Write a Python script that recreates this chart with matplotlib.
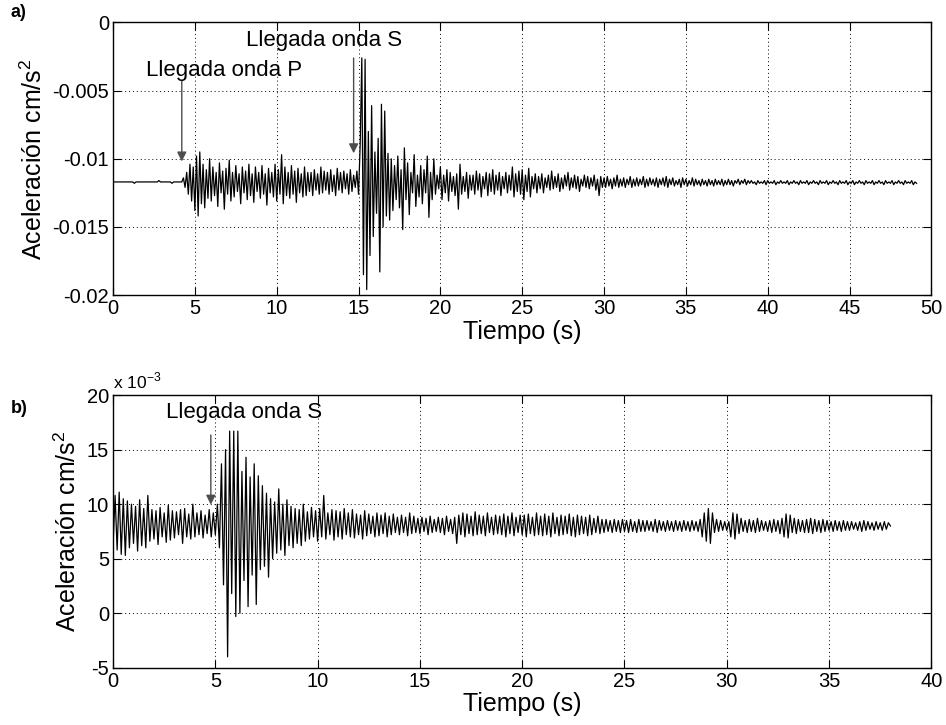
import numpy as np
import matplotlib
matplotlib.use("Agg")
import matplotlib.pyplot as plt

plt.rcParams["font.family"] = ["Liberation Sans", "DejaVu Sans"]
plt.rcParams["axes.unicode_minus"] = False

# sampling step of the traces (s)
dt = 0.1

# panel a) acceleration, units of 1e-4 cm/s^2, one row per second
acc_a = [
    -117, -117, -117, -117, -117, -117, -117, -117, -117, -117,
    -117, -117, -117, -118, -117, -117, -117, -117, -117, -117,
    -117, -117, -117, -117, -117, -117, -117, -117, -116, -117,
    -117, -117, -117, -117, -117, -117, -118, -117, -117, -117,
    -117, -117, -117, -114, -121, -110, -126, -104, -131, -106,
    -138, -98, -142, -95, -133, -104, -136, -108, -129, -100,
    -131, -106, -127, -110, -135, -103, -125, -109, -137, -107,
    -126, -101, -131, -110, -128, -105, -124, -111, -133, -106,
    -125, -109, -130, -104, -127, -111, -132, -106, -124, -110,
    -129, -105, -126, -111, -134, -107, -125, -110, -128, -104,
    -131, -108, -126, -97, -133, -106, -127, -110, -129, -105,
    -126, -109, -132, -107, -125, -111, -128, -106, -127, -110,
    -124, -110, -127, -108, -123, -111, -126, -106, -125, -109,
    -123, -110, -126, -108, -124, -112, -127, -107, -123, -110,
    -125, -109, -122, -111, -126, -108, -124, -112, -121, -109,
    -126, -90, -26, -185, -27, -196, -80, -171, -61, -157,
    -95, -140, -85, -183, -60, -150, -65, -142, -96, -145,
    -100, -138, -105, -130, -98, -136, -108, -152, -92, -130,
    -103, -141, -110, -125, -97, -135, -112, -128, -105, -133,
    -108, -125, -98, -143, -110, -130, -100, -126, -112, -122,
    -106, -130, -112, -125, -108, -131, -110, -124, -113, -127,
    -111, -137, -104, -126, -113, -124, -110, -129, -112, -123,
    -112, -126, -109, -123, -111, -128, -113, -122, -110, -127,
    -111, -124, -108, -126, -112, -123, -110, -127, -113, -122,
    -110, -125, -112, -123, -106, -128, -111, -124, -109, -126,
    -108, -130, -112, -124, -107, -128, -113, -122, -111, -125,
    -113, -122, -111, -125, -114, -121, -112, -123, -109, -122,
    -113, -121, -111, -124, -114, -122, -112, -120, -110, -123,
    -114, -121, -112, -122, -113, -124, -115, -120, -112, -121,
    -113, -122, -114, -120, -112, -123, -115, -127, -113, -121,
    -114, -121, -113, -120, -115, -122, -114, -120, -112, -121,
    -115, -120, -114, -121, -115, -119, -113, -121, -115, -120,
    -114, -120, -115, -119, -113, -121, -115, -120, -114, -119,
    -115, -120, -114, -121, -115, -119, -114, -120, -113, -121,
    -115, -119, -114, -120, -116, -119, -115, -121, -114, -119,
    -115, -120, -116, -119, -114, -120, -115, -119, -116, -120,
    -115, -119, -116, -120, -115, -119, -116, -120, -115, -119,
    -116, -119, -115, -120, -116, -119, -115, -119, -116, -120,
    -116, -118, -115, -119, -116, -118, -115, -119, -116, -118,
    -116, -118, -117, -119, -116, -118, -117, -118, -116, -119,
    -116, -118, -117, -118, -116, -119, -117, -118, -116, -118,
    -117, -118, -116, -119, -117, -118, -116, -118, -117, -119,
    -116, -118, -117, -118, -116, -119, -117, -118, -116, -118,
    -117, -119, -116, -118, -117, -118, -116, -119, -117, -118,
    -116, -118, -117, -119, -116, -118, -117, -118, -116, -119,
    -117, -118, -116, -119, -117, -118, -116, -118, -117, -119,
    -116, -118, -117, -118, -116, -119, -117, -118, -116, -118,
    -117, -119, -116, -118, -117, -118, -116, -119, -117, -118,
    -116, -118, -117, -119, -116, -118, -117, -118, -116, -119,
    -117, -118,
]

# panel b) acceleration, units of 1e-4 cm/s^2, one row per second
acc_b = [
    62, 108, 58, 111, 54, 105, 53, 103, 60, 100,
    64, 98, 57, 104, 62, 96, 60, 108, 66, 95,
    68, 94, 63, 97, 70, 92, 65, 99, 67, 94,
    69, 93, 72, 95, 64, 96, 70, 91, 68, 100,
    70, 92, 72, 94, 69, 90, 73, 95, 70, 92,
    72, 100, 60, 137, 26, 150, -40, 167, 18, 167,
    -3, 167, 0, 130, 30, 143, 6, 125, 35, 137,
    8, 126, 40, 117, 43, 110, 33, 105, 50, 102,
    55, 114, 58, 100, 53, 104, 62, 98, 60, 96,
    64, 95, 62, 100, 66, 93, 68, 97, 70, 94,
    66, 96, 70, 108, 68, 92, 72, 95, 67, 94,
    70, 93, 68, 96, 72, 92, 70, 95, 69, 91,
    72, 90, 68, 94, 71, 91, 73, 89, 70, 92,
    71, 90, 73, 92, 70, 89, 72, 91, 74, 88,
    72, 90, 74, 88, 71, 92, 73, 89, 74, 87,
    73, 88, 75, 87, 72, 89, 74, 86, 75, 88,
    74, 87, 72, 89, 75, 86, 73, 88, 64, 90,
    72, 92, 70, 91, 73, 89, 71, 93, 72, 90,
    73, 89, 71, 92, 74, 88, 72, 90, 73, 89,
    72, 91, 70, 89, 73, 92, 71, 88, 74, 90,
    72, 90, 70, 91, 73, 88, 71, 92, 72, 89,
    71, 91, 72, 89, 70, 92, 73, 88, 71, 90,
    72, 89, 73, 91, 71, 88, 70, 90, 72, 89,
    73, 88, 71, 90, 72, 87, 74, 89, 73, 86,
    74, 86, 75, 85, 74, 86, 75, 85, 74, 86,
    75, 85, 74, 86, 75, 84, 74, 86, 75, 85,
    75, 85, 76, 84, 75, 86, 74, 85, 76, 84,
    75, 85, 76, 84, 75, 85, 76, 84, 75, 85,
    76, 84, 75, 85, 76, 84, 75, 86, 70, 92,
    66, 96, 64, 92, 74, 86, 75, 85, 76, 84,
    76, 84, 70, 92, 68, 91, 73, 87, 75, 85,
    74, 86, 75, 85, 74, 87, 75, 85, 76, 84,
    75, 85, 74, 86, 75, 85, 73, 87, 70, 91,
    69, 90, 74, 87, 73, 86, 75, 85, 74, 86,
    74, 87, 73, 86, 75, 85, 74, 86, 75, 85,
    76, 84, 75, 85, 76, 84, 75, 85, 76, 84,
    76, 84, 77, 83, 76, 84, 75, 85, 76, 84,
    77, 83, 76, 84, 77, 83, 76, 84, 77, 83,
    80,
]

t_a = np.arange(len(acc_a)) * dt
t_b = np.arange(len(acc_b)) * dt
y_a = np.array(acc_a) * 1e-4          # cm/s^2
y_b = np.array(acc_b) * 1e-4 * 1e3    # plotted in units of 1e-3

xticks_a = np.arange(0, 51, 5)
yticks_a = [-0.02, -0.015, -0.01, -0.005, 0]
ytick_labels_a = ["-0.02", "-0.015", "-0.01", "-0.005", "0"]
xticks_b = np.arange(0, 41, 5)
yticks_b = [-5, 0, 5, 10, 15, 20]

fig = plt.figure(figsize=(9.46, 7.25), dpi=100)
ax1 = fig.add_axes([0.1195, 0.593, 0.865, 0.376])
ax2 = fig.add_axes([0.1195, 0.079, 0.865, 0.376])


def style(ax):
    ax.grid(True, linestyle=(0, (1, 3)), color="k", linewidth=0.7)
    ax.tick_params(direction="in", top=True, right=True, length=6,
                   labelsize=14.5, pad=3)
    for s in ax.spines.values():
        s.set_linewidth(1.0)
    ax.set_xlabel("Tiempo (s)", fontsize=18, labelpad=1)
    ax.set_ylabel("Aceleración cm/s$^{\\mathregular{2}}$", fontsize=18,
                  labelpad=4)


ax1.plot(t_a, y_a, color="k", linewidth=0.9)
ax1.set_xlim(0, 50)
ax1.set_ylim(-0.02, 0)
ax1.set_xticks(xticks_a)
ax1.set_yticks(yticks_a)
ax1.set_yticklabels(ytick_labels_a)
style(ax1)

arrow = dict(arrowstyle="-|>", color="0.3", lw=1.0, mutation_scale=14)
ax1.annotate("", xy=(4.2, -0.0104), xytext=(4.2, -0.0041), arrowprops=arrow)
ax1.text(2.0, -0.0035, "Llegada onda P", fontsize=16, va="center")
ax1.annotate("", xy=(14.7, -0.0098), xytext=(14.7, -0.0024), arrowprops=arrow)
ax1.text(8.1, -0.0013, "Llegada onda S", fontsize=16, va="center")

ax2.plot(t_b, y_b, color="k", linewidth=0.9)
ax2.set_xlim(0, 40)
ax2.set_ylim(-5, 20)
ax2.set_xticks(xticks_b)
ax2.set_yticks(yticks_b)
style(ax2)
ax2.annotate("", xy=(4.78, 9.7), xytext=(4.78, 16.6), arrowprops=arrow)
ax2.text(2.6, 18.4, "Llegada onda S", fontsize=16, va="center")
ax2.text(0, 20.3, "x 10$^{\\mathregular{-3}}$", fontsize=12.5, va="bottom")

fig.text(0.011, 0.983, "a)", fontsize=13, fontweight="bold", va="center")
fig.text(0.011, 0.437, "b)", fontsize=13, fontweight="bold", va="center")

fig.savefig("out.png", dpi=100)
